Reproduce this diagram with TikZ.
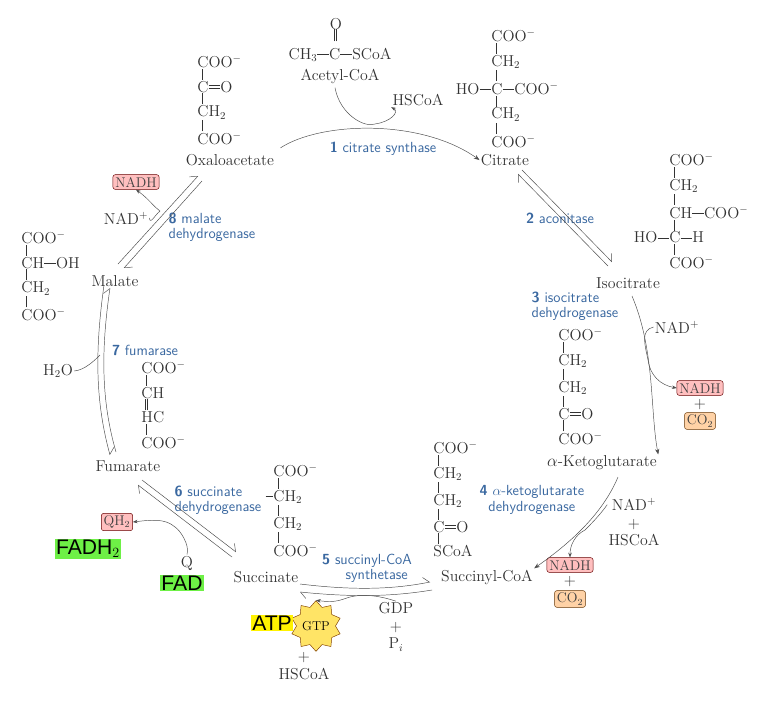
\documentclass[tikz,border=0pt]{standalone}
\usepackage{fontspec}
\newfontfamily\arialfont{Liberation Sans}
\usetikzlibrary{arrows.meta,shapes.geometric}
\colorlet{enzblue}{cyan!50!blue!75!black}
\colorlet{redbox}{red!25!white}
\colorlet{orangebox}{orange!35!white}
\definecolor{hlgreen}{RGB}{110,240,70}
\newcommand{\hb}{\rule[0.3em]{0.75em}{0.4pt}}
\newcommand{\dbd}{\rlap{\rule[0.22em]{0.75em}{0.4pt}}\rule[0.42em]{0.75em}{0.4pt}}
\newcommand{\vb}{\hspace*{0.3em}\rule{0.4pt}{0.7em}}
\newcommand{\vvb}{\hspace*{0.22em}\rule{0.4pt}{0.7em}\hspace{1.6pt}\rule{0.4pt}{0.7em}}
\newcommand{\coo}{COO$^-$}
\tikzset{
  >=Stealth,
  chem/.style={font=\fontsize{13.5}{10.4}\selectfont, inner sep=1pt, align=left, text=black!80},
  stack/.style={font=\fontsize{13.5}{15}\selectfont, inner sep=1pt, align=center, text=black!80},
  lbl/.style={font=\fontsize{13.5}{13}\selectfont, inner sep=1pt, text=black!80},
  enz/.style={font=\sffamily\fontsize{12.5}{13}\selectfont, text=enzblue, align=left, inner sep=1pt},
  prod/.style={font=\fontsize{12}{12}\selectfont, draw=red!40!black, fill=redbox, rounded corners=2pt, inner sep=2pt, text=black!75},
  prodo/.style={prod, fill=orangebox, draw=orange!40!black},
  hilite/.style={font=\arialfont\fontsize{18}{18}\selectfont, inner sep=1pt},
  rxn/.style={black!70, thin},
  fwd/.style={rxn, -{Straight Barb[left,length=5pt]}},
  side/.style={rxn, ->, >={Stealth[length=4pt]}}
}
\begin{document}
\begin{tikzpicture}[x=0.3mm,y=-0.3mm]
\useasboundingbox (0,0) rectangle (770,710);

% Structures
\node[chem] (acetyl) at (340,55) {CH$_3$\hb C\hb SCoA};
\node[chem] (acetylO) at (336,30) {O\\[-2pt]\hspace*{0.25em}\rule{0.4pt}{0.8em}\hspace{1.4pt}\rule{0.4pt}{0.8em}};
\node[lbl] (acetyllbl) at (340,76) {Acetyl-CoA};
\node[chem, anchor=north west] (oaas) at (196,54) {\coo\\\vb\\C\dbd O\\\vb\\CH$_2$\\\vb\\\coo};
\node[lbl] (oaa) at (230,160) {Oxaloacetate};
\node[chem, anchor=north west] (cits) at (490,28) {\coo\\\vb\\CH$_2$\\\vb\\\llap{HO\hb}C\hb\coo\\\vb\\CH$_2$\\\vb\\\coo};
\node[lbl] (cit) at (505,160) {Citrate};
\node[chem] (hscoa1) at (418,100) {HSCoA};
\node[chem, anchor=north west] (isos) at (668,152) {\coo\\\vb\\CH$_2$\\\vb\\CH\hb\coo\\\vb\\\llap{HO\hb}C\hb H\\\vb\\\coo};
\node[lbl] (iso) at (628,283) {Isocitrate};
\node[chem, anchor=north west] (akgs) at (557,327) {\coo\\\vb\\CH$_2$\\\vb\\CH$_2$\\\vb\\C\dbd O\\\vb\\\coo};
\node[lbl] (akg) at (602,463) {$\alpha$-Ketoglutarate};
\node[chem, anchor=north west] (scoas) at (432,440) {\coo\\\vb\\CH$_2$\\\vb\\CH$_2$\\\vb\\C\dbd O\\\vb\\SCoA};
\node[lbl] (scoa) at (487,577) {Succinyl-CoA};
\node[chem, anchor=north west] (succs) at (272,463) {\coo\\\vb\\\llap{\rule[0.3em]{0.5em}{0.4pt}}CH$_2$\\\vb\\CH$_2$\\\vb\\\coo};
\node[lbl] (succ) at (266,577) {Succinate};
\node[chem, anchor=north west] (fums) at (140,360) {\coo\\\vb\\CH\\\vvb\\HC\\\vb\\\coo};
\node[lbl] (fum) at (128,466) {Fumarate};
\node[chem, anchor=north west] (mals) at (20,230) {\coo\\\vb\\CH\hb OH\\\vb\\CH$_2$\\\vb\\\coo};
\node[lbl] (mal) at (115,281) {Malate};

% Enzymes
\node[enz] (e1) at (383,149) {\textbf{1} citrate synthase};
\node[enz] (e2) at (560,218) {\textbf{2} aconitase};
\node[enz] (e3) at (575,306) {\textbf{3} isocitrate\\dehydrogenase};
\node[enz] (e4) at (532,500) {\textbf{4} $\alpha$-ketoglutarate\\\hspace*{0.6em}dehydrogenase};
\node[enz] (e5) at (367,568) {\textbf{5} succinyl-CoA\\\hspace*{1.6em}synthetase};
\node[enz] (e6) at (218,500) {\textbf{6} succinate\\dehydrogenase};
\node[enz] (e7) at (145,350) {\textbf{7} fumarase};
\node[enz] (e8) at (212,227) {\textbf{8} malate\\dehydrogenase};

% Cofactors
\node[prod] (nadh8) at (136,182) {NADH};
\node[chem] (nad8) at (126,218) {NAD$^+$};
\node[chem] (h2o) at (58,371) {H$_2$O};
\node[prod] (qh2) at (117,522) {QH$_2$};
\node[hilite, fill=hlgreen] (fadh2) at (88,549) {FADH$_2$};
\node[chem] (q) at (187,563) {Q};
\node[hilite, fill=hlgreen] (fad) at (182,583) {FAD};
\node[star, star points=10, star point ratio=1.3, minimum size=40, draw=orange!50!black, fill=orange!35!yellow!60!white, inner sep=0pt, font=\fontsize{11}{11}\selectfont] (gtp) at (316,626) {GTP};
\node[hilite, fill=yellow] (atp) at (272,623) {ATP};
\node[stack] (gdp) at (396,627) {GDP\\+\\P$_i$};
\node[stack] (hscoa5) at (304,666) {+\\HSCoA};
\node[stack] (nad4) at (634,522) {NAD$^+$\\+\\HSCoA};
\node[prod] (nadh4) at (570,565) {NADH};
\node[chem] (plus4) at (570,582) {+};
\node[prodo] (co24) at (570,599) {CO$_2$};
\node[chem] (nad3) at (677,327) {NAD$^+$};
\node[prod] (nadh3) at (700,388) {NADH};
\node[chem] (plus3) at (700,405) {+};
\node[prodo] (co23) at (700,421) {CO$_2$};

% Reactions
\draw[rxn, ->] (oaa.north east) ++(5,-5) .. controls (320,122) and (420,118) .. (cit.west);
\draw[rxn] (acetyllbl.south) ++(-5,3) .. controls (340,115) and (365,128) .. (375,124) coordinate (a1);
\draw[side] (a1) .. controls (390,122) and (400,112) .. (hscoa1.south west);
\draw[fwd] (522,170) -- (612,262);
\draw[fwd] (608,266) -- (518,174);
\draw[rxn, ->] (632,296) .. controls (655,350) and (650,410) .. (akg.north east);
\draw[rxn] (nad3.west) .. controls (640,330) and (645,345) .. (648,360) coordinate (a3);
\draw[side] (a3) .. controls (650,375) and (660,385) .. (nadh3.west);
\draw[rxn, ->] (618,477) .. controls (600,520) and (560,550) .. (scoa.north east);
\draw[rxn] (nad4.north west) ++(0,8) .. controls (600,515) and (590,525) .. (585,530) coordinate (a4);
\draw[side] (a4) .. controls (575,535) and (570,545) .. (nadh4.north);
\draw[fwd] (300,584) .. controls (350,590) and (390,590) .. (430,582);
\draw[fwd] (432,590) .. controls (390,597) and (350,597) .. (300,592);
\draw[rxn] (gdp.north) .. controls (392,600) and (370,592) .. (350,597) coordinate (a5);
\draw[side] (a5) .. controls (340,600) and (336,603) .. (gtp.north);
\draw[fwd] (232,557) -- (138,485);
\draw[fwd] (142,480) -- (236,552);
\draw[rxn] (q.north) .. controls (190,545) and (180,530) .. (175,527) coordinate (a6);
\draw[side] (a6) .. controls (165,518) and (150,520) .. (qh2.east);
\draw[fwd] (104,285) .. controls (95,350) and (95,400) .. (110,455);
\draw[fwd] (116,452) .. controls (101,400) and (101,350) .. (110,288);
\draw[rxn] (h2o.east) .. controls (85,370) and (95,360) .. (100,355);
\draw[fwd] (118,264) -- (198,176);
\draw[fwd] (202,181) -- (124,268);
\draw[rxn] (nad8.east) .. controls (150,225) and (155,215) .. (160,211) coordinate (a8);
\draw[side] (a8) .. controls (152,205) and (150,200) .. (nadh8.south);
\end{tikzpicture}
\end{document}
